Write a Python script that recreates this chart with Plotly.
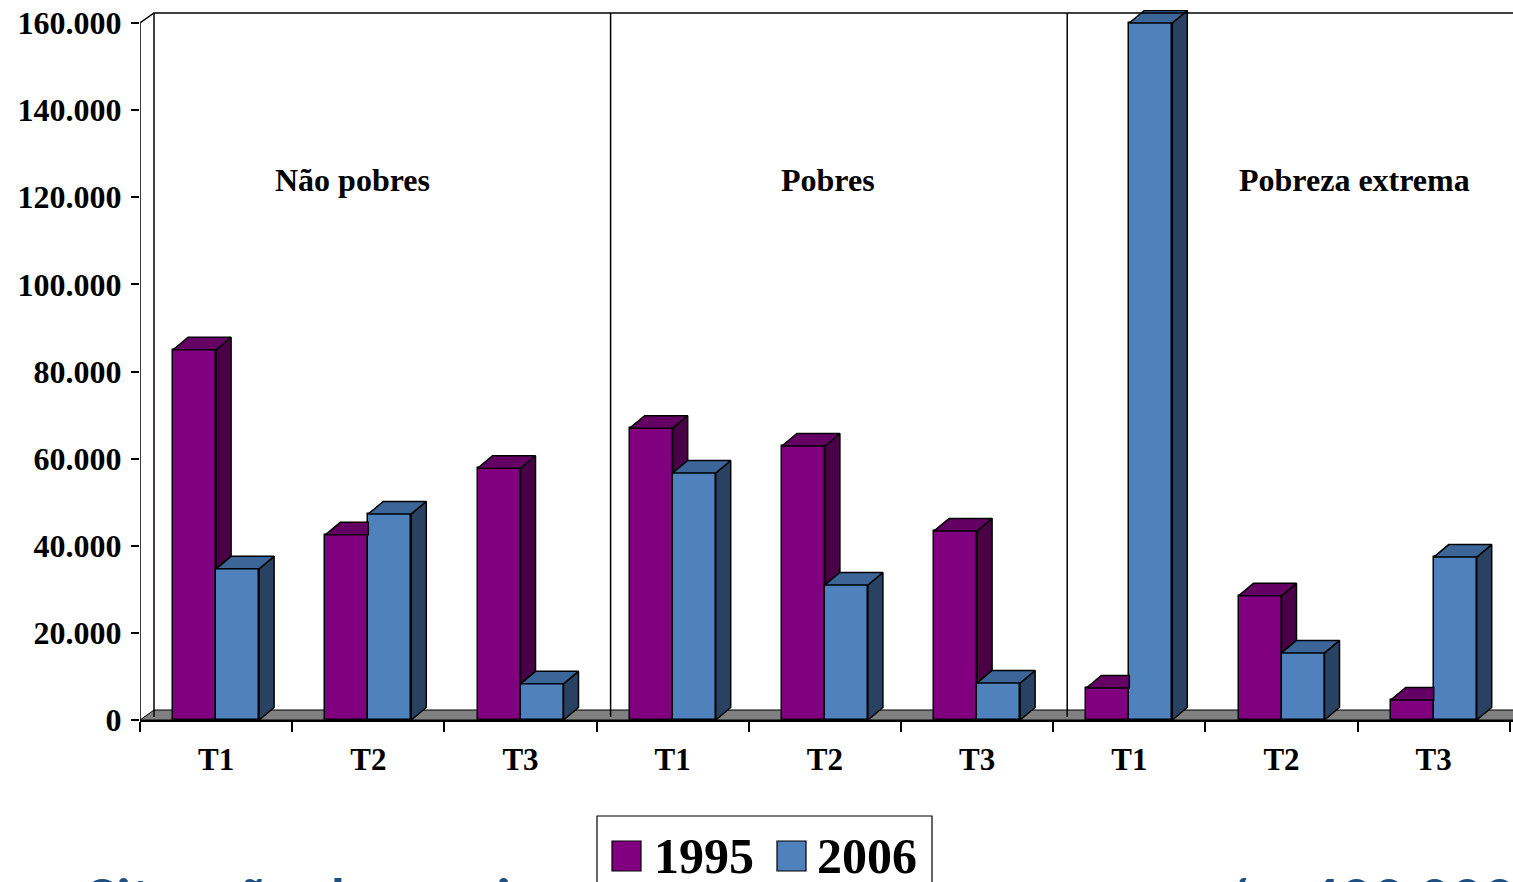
import plotly.graph_objects as go

# ---- data -------------------------------------------------------------
groups = ["Não pobres", "Pobres", "Pobreza extrema"]
periods = ["T1", "T2", "T3"]
series_names = ["1995", "2006"]
values_1995 = [85000, 42500, 57800, 67000, 62900, 43400, 7350, 28500, 4600]
values_2006 = [34700, 47300, 8300, 56700, 31000, 8500, 160000, 15400, 37400]
y_tickvals = [0, 20000, 40000, 60000, 80000, 100000, 120000, 140000, 160000]
y_ticktext = ["0", "20.000", "40.000", "60.000", "80.000", "100.000",
              "120.000", "140.000", "160.000"]

# ---- styling ----------------------------------------------------------
FONT = "Liberation Serif"
PURPLE = ("#800080", "#4A0047", "#640064")   # front, side, top
BLUE = ("#4F81BD", "#2A4262", "#3C6697")
W, H = 1513, 882
M_L, M_R, M_T, M_B = 140, 0, 10, 162
PLOT_W, PLOT_H = W - M_L - M_R, H - M_T - M_B
CAT_PX = 152.2
X0 = -0.5
X1 = X0 + PLOT_W / CAT_PX
Y_MAX = 160000
YTOP = Y_MAX * PLOT_H / 697.0
Y_PER_PX = YTOP / PLOT_H

BAR_W = 43 / CAT_PX
BAR_DX, BAR_DY = 15 / CAT_PX, 12.5 * Y_PER_PX      # bar depth
WALL_DX, WALL_DY = 14 / CAT_PX, 10 * Y_PER_PX      # wall/floor depth

n = len(values_1995)
xs = list(range(n))
cats = [p for _ in groups for p in periods]

fig = go.Figure()

# front faces
fig.add_trace(go.Bar(x=xs, y=values_1995, width=BAR_W, offset=-BAR_W,
                     marker=dict(color=PURPLE[0], line=dict(color="black", width=1.5)),
                     name=series_names[0], showlegend=False, hoverinfo="skip"))
fig.add_trace(go.Bar(x=xs, y=values_2006, width=BAR_W, offset=0,
                     marker=dict(color=BLUE[0], line=dict(color="black", width=1.5)),
                     name=series_names[1], showlegend=False, hoverinfo="skip"))


def faces(left, vals, base_side=None, clip_top=None):
    """Side and top parallelograms of 3D bars (visible parts only)."""
    sx, sy, tx, ty = [], [], [], []
    for i, v in enumerate(vals):
        xl = i + left
        xr = xl + BAR_W
        b = 0 if base_side is None else base_side[i]
        if v > b:
            sx += [xr, xr, xr + BAR_DX, xr + BAR_DX, xr, None]
            sy += [b, v, v + BAR_DY, b + BAR_DY, b, None]
        if clip_top is not None and clip_top[i] > v:
            tx += [xl, xr, xr, xl + BAR_DX, xl, None]
            ty += [v, v, v + BAR_DY, v + BAR_DY, v, None]
        else:
            tx += [xl, xr, xr + BAR_DX, xl + BAR_DX, xl, None]
            ty += [v, v, v + BAR_DY, v + BAR_DY, v, None]
    return sx, sy, tx, ty


def add_faces(sx, sy, tx, ty, colors):
    for fx, fy, c in ((sx, sy, colors[1]), (tx, ty, colors[2])):
        fig.add_trace(go.Scatter(x=fx, y=fy, mode="lines", fill="toself",
                                 fillcolor=c, line=dict(color="black", width=1.5),
                                 showlegend=False, hoverinfo="skip"))


# 1995 bars sit left; their right side is hidden by 2006 bars up to their height
add_faces(*faces(-BAR_W, values_1995, base_side=values_2006, clip_top=values_2006), PURPLE)
add_faces(*faces(0, values_2006), BLUE)

shapes = []
# floor
shapes.append(dict(type="path", layer="below", fillcolor="#808080",
                   line=dict(color="black", width=1),
                   path=f"M {X0},0 L {X1 + 1},0 L {X1 + 1 + WALL_DX},{WALL_DY} "
                        f"L {X0 + WALL_DX},{WALL_DY} Z"))
# front value axis and top of back wall
shapes.append(dict(type="path", layer="above", line=dict(color="black", width=1.5),
                   path=f"M {X0},0 L {X0},{Y_MAX} L {X0 + WALL_DX},{Y_MAX + WALL_DY} "
                        f"L {X1 + 1},{Y_MAX + WALL_DY}"))
# back wall left edge and group separators
for xv in (X0, 2.5, 5.5):
    shapes.append(dict(type="line", layer="below", line=dict(color="black", width=1.5),
                       x0=xv + WALL_DX, x1=xv + WALL_DX, y0=WALL_DY * 0.3,
                       y1=Y_MAX + WALL_DY))


def px_x(p):
    return (p - M_L) / PLOT_W


def px_y(p):
    return (H - M_B - p) / PLOT_H


# legend box and swatches
shapes.append(dict(type="rect", xref="paper", yref="paper", x0=px_x(597), x1=px_x(932),
                   y0=px_y(900), y1=px_y(816), line=dict(color="black", width=1.2),
                   fillcolor="white", layer="above"))
for (xa, xb), col in (((612, 641), PURPLE[0]), ((777, 806), BLUE[0])):
    shapes.append(dict(type="rect", xref="paper", yref="paper", x0=px_x(xa), x1=px_x(xb),
                       y0=px_y(871), y1=px_y(841), line=dict(color="black", width=1.2),
                       fillcolor=col, layer="above"))

annotations = []
group_pos = [(0.893, groups[0]), (4.02, groups[1]), (7.48, groups[2])]
for gx, gname in group_pos:
    annotations.append(dict(x=gx, y=(720 - 180) * Y_PER_PX, xref="x", yref="y",
                            text=f"<b>{gname}</b>", showarrow=False,
                            font=dict(family=FONT, size=32, color="black")))
for lx, name in ((652, series_names[0]), (815, series_names[1])):
    annotations.append(dict(x=px_x(lx), y=px_y(856), xref="paper", yref="paper",
                            xanchor="left", yanchor="middle", text=f"<b>{name}</b>",
                            showarrow=False,
                            font=dict(family=FONT, size=50, color="black")))

# slide title running behind the legend
TITLE_BLUE = "#1F4E80"
annotations.append(dict(x=px_x(84), y=px_y(862), xref="paper", yref="paper",
                        xanchor="left", yanchor="top", text="<b>Situação de meninos</b>",
                        showarrow=False, font=dict(family="Lato", size=56, color=TITLE_BLUE)))
annotations.append(dict(x=px_x(1220), y=px_y(862), xref="paper", yref="paper",
                        xanchor="left", yanchor="top", text="<b>/ + 400.000</b>",
                        showarrow=False, font=dict(family="Lato", size=56, color=TITLE_BLUE)))

fig.update_layout(
    width=W, height=H,
    margin=dict(l=M_L, r=M_R, t=M_T, b=M_B, pad=0),
    plot_bgcolor="white", paper_bgcolor="white",
    barmode="overlay", bargap=0,
    shapes=shapes, annotations=annotations,
    xaxis=dict(range=[X0, X1], tickvals=xs, ticktext=cats, ticks="",
               showgrid=False, zeroline=False, showline=True, linecolor="black",
               linewidth=2,
               tickfont=dict(family=FONT, size=31, color="black", weight="bold"),
               ticklabelstandoff=11,
               minor=dict(tickvals=[X0 + i for i in range(n + 1)], ticks="outside",
                          ticklen=10, tickcolor="black", tickwidth=1.5)),
    yaxis=dict(range=[0, YTOP], tickvals=y_tickvals, ticktext=y_ticktext,
               ticks="outside", ticklen=8, tickcolor="black", tickwidth=1.5,
               showgrid=False, zeroline=False, showline=False,
               tickfont=dict(family=FONT, size=32, color="black", weight="bold"),
               ticklabelstandoff=3),
    font=dict(family=FONT),
)

fig.write_html("out.html")
